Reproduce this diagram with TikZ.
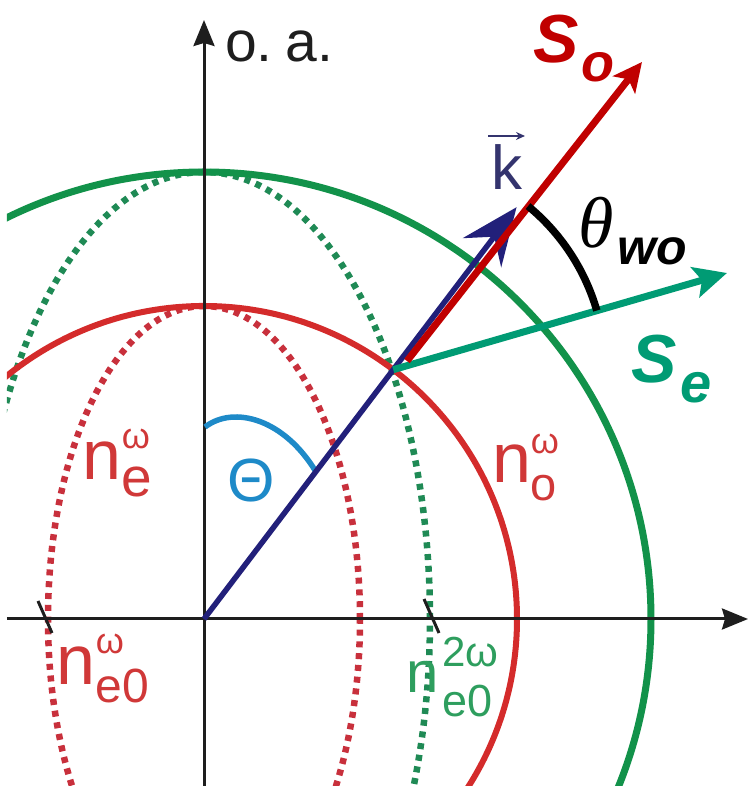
\documentclass[tikz,border=0pt]{standalone}
\usepackage{fontspec}
\setmainfont{Liberation Sans}
\newfontfamily\serifface{Liberation Serif}
\usetikzlibrary{arrows.meta,calc}
\definecolor{axisc}{HTML}{1E1E1E}
\definecolor{redcirc}{HTML}{D42B2B}
\definecolor{reddot}{HTML}{C8303C}
\definecolor{greencirc}{HTML}{12924A}
\definecolor{greendot}{HTML}{1F8A55}
\definecolor{navy}{HTML}{22207A}
\definecolor{navylab}{HTML}{34346E}
\definecolor{thetac}{HTML}{1E8AC8}
\definecolor{soc}{HTML}{C00000}
\definecolor{sec}{HTML}{009B74}
\definecolor{nred}{HTML}{D03838}
\definecolor{ngreen}{HTML}{2E9E5E}
\newcommand\nlabel[7]{{\fontsize{#1}{#1}\selectfont n}\rlap{\raisebox{#4}{\fontsize{#3}{#3}\selectfont #2}}\raisebox{-#7}{\fontsize{#6}{#6}\selectfont #5}}
\begin{document}
\begin{tikzpicture}[x=1pt,y=1pt,
  lab/.style={inner sep=0pt, outer sep=0pt, anchor=base west},
  axisline/.style={draw=axisc, line width=3pt},
  axisarrow/.style={axisline, -{Stealth[length=26pt,width=21pt,inset=3pt]}},
  dotline/.style={line width=6.5pt, dash pattern=on 6pt off 5.8pt},
  ]
\useasboundingbox (-204,-167) rectangle (546,619);
\coordinate (O) at (0,0);
\coordinate (P) at (52.8:313);
\coordinate (ktip) at (52.8:517);
\coordinate (So0) at (203,258);
\coordinate (SoTip) at (438,557);
\coordinate (SeTip) at (523,346);
\coordinate (Thstart) at (1,192);
\coordinate (Thend) at (52.8:185);
\begin{scope}
\clip (-197,-167) rectangle (546,619);
\draw[dotline, reddot] (O) ellipse[x radius=156, y radius=313];
\draw[dotline, greendot] (O) ellipse[x radius=226, y radius=447];
\draw[redcirc, line width=6pt] (O) circle[radius=313];
\draw[greencirc, line width=7pt] (O) circle[radius=447];
\end{scope}
% axes
\coordinate (vbot) at (0,-167);
\coordinate (vtop) at (0,599);
\coordinate (hleft) at (-197,0);
\coordinate (hright) at (544,0);
\draw[axisarrow] (vbot) -- (vtop);
\draw[axisarrow] (hleft) -- (hright);
\coordinate (t1a) at (-166,18);
\coordinate (t1b) at (-152,-14);
\coordinate (t2a) at (220,20);
\coordinate (t2b) at (235,-14);
\draw[axisline] (t1a) -- (t1b);
\draw[axisline] (t2a) -- (t2b);
% Theta arc
\draw[thetac, line width=5.5pt] (Thstart) .. controls (30,214) and (80,200) .. (Thend);
% vectors
\draw[navy, line width=5.5pt, -{Stealth[length=57pt,width=48pt,inset=20pt]}] (O) -- (ktip);
\draw[sec, line width=7pt, -{Stealth[length=33pt,width=31pt,inset=7pt]}] (P) -- (SeTip);
\draw[soc, line width=7pt, -{Stealth[length=29pt,width=28pt,inset=7pt]}] (So0) -- (SoTip);
\draw[black, line width=7.5pt] ($(P)+(16.2:212)$) arc[start angle=16.2, end angle=50.5, radius=212];
% labels
\node[lab, text=axisc, font=\fontsize{57}{57}\selectfont] (oa) at (21,557) {o.\kern-3pt\ a.};
\node[lab, text=thetac, font=\fontsize{61}{61}\selectfont] (Th) at (23,117) {Θ};
\node[lab, text=navylab, font=\fontsize{62}{62}\selectfont] (klab) at (287,429) {k};
\draw[navylab, line width=2.5pt, -{Stealth[length=9pt,width=8pt]}] ($(klab.base west)+(-3,54)$) -- ($(klab.base west)+(34,54)$);
\node[lab, text=soc, font=\bfseries\itshape\fontsize{68}{68}\selectfont] (So) at (329,556) {S\kern3pt\raisebox{-19pt}{\fontsize{54}{54}\selectfont o}};
\node[lab, text=sec, font=\bfseries\itshape\fontsize{68}{68}\selectfont] (Se) at (427,236) {S\kern4pt\raisebox{-20pt}{\fontsize{56}{56}\selectfont e}};
\node[lab, text=black] (thwo) at (374,371) {{\serifface\itshape\fontsize{72}{72}\selectfont θ}\kern4pt\raisebox{-17pt}{\bfseries\itshape\fontsize{50}{50}\selectfont wo}};
\node[lab, text=nred] (ne) at (-121,139) {\nlabel{70pt}{ω}{36pt}{31pt}{e}{55pt}{17pt}};
\node[lab, text=nred] (ne0) at (-147,-66) {\nlabel{70pt}{ω}{36pt}{31pt}{e0}{48pt}{18pt}};
\node[lab, text=nred] (no) at (288,136) {\nlabel{70pt}{ω}{36pt}{29pt}{o}{47pt}{18pt}};
\node[lab, text=ngreen] (ne02) at (202,-74) {\nlabel{58pt}{\kern4pt 2ω}{42pt}{26pt}{\kern4pt e0}{45pt}{24pt}};
\end{tikzpicture}
\end{document}
